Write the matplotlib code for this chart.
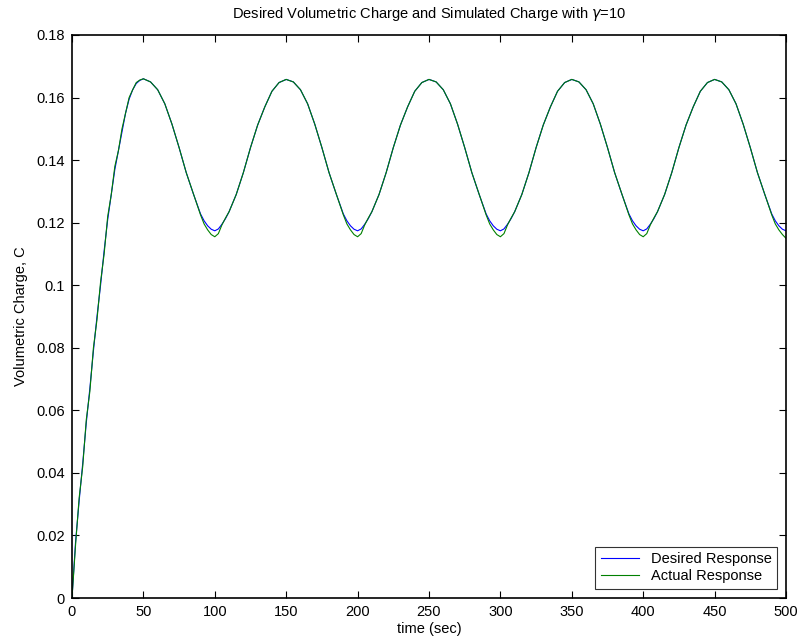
import matplotlib
matplotlib.use("Agg")
import matplotlib.pyplot as plt
import numpy as np

plt.rcParams['font.family'] = ['Liberation Sans', 'DejaVu Sans']
plt.rcParams['mathtext.fontset'] = 'dejavusans'

# time samples (sec)
time_rise = [0, 2.5, 5, 7.5, 10, 12.5, 15, 17.5, 20, 22.5, 25, 27.5, 30,
             32.5, 35, 37.5, 40, 42.5, 45, 47.5, 50]
time_p1 = [55, 60, 65, 70, 75, 80, 85, 90, 92.5, 95, 97.5, 100, 102.5, 105,
           107.5, 110, 115, 120, 125, 130, 135, 140, 145, 150]
time_p2 = [155, 160, 165, 170, 175, 180, 185, 190, 192.5, 195, 197.5, 200,
           202.5, 205, 207.5, 210, 215, 220, 225, 230, 235, 240, 245, 250]
time_p3 = [255, 260, 265, 270, 275, 280, 285, 290, 292.5, 295, 297.5, 300,
           302.5, 305, 307.5, 310, 315, 320, 325, 330, 335, 340, 345, 350]
time_p4 = [355, 360, 365, 370, 375, 380, 385, 390, 392.5, 395, 397.5, 400,
           402.5, 405, 407.5, 410, 415, 420, 425, 430, 435, 440, 445, 450]
time_end = [455, 460, 465, 470, 475, 480, 485, 490, 492.5, 495, 497.5, 500]

# desired volumetric charge
desired_rise = [0.0, 0.018, 0.031, 0.043, 0.056, 0.067, 0.079, 0.090, 0.100,
                0.111, 0.121, 0.129, 0.137, 0.143, 0.149, 0.155, 0.1595,
                0.1625, 0.1645, 0.1655, 0.1660]
desired_p1 = [0.1650, 0.1625, 0.1580, 0.1515, 0.1440, 0.1360, 0.1292, 0.1228,
              0.1206, 0.1190, 0.1179, 0.1174, 0.1180, 0.1195, 0.1213, 0.1235,
              0.1290, 0.1360, 0.1440, 0.1512, 0.1570, 0.1620, 0.1648, 0.1658]
desired_p2 = [0.1650, 0.1625, 0.1580, 0.1515, 0.1440, 0.1360, 0.1292, 0.1228,
              0.1206, 0.1190, 0.1179, 0.1174, 0.1180, 0.1195, 0.1213, 0.1235,
              0.1290, 0.1360, 0.1440, 0.1512, 0.1570, 0.1620, 0.1648, 0.1658]
desired_p3 = [0.1650, 0.1625, 0.1580, 0.1515, 0.1440, 0.1360, 0.1292, 0.1228,
              0.1206, 0.1190, 0.1179, 0.1174, 0.1180, 0.1195, 0.1213, 0.1235,
              0.1290, 0.1360, 0.1440, 0.1512, 0.1570, 0.1620, 0.1648, 0.1658]
desired_p4 = [0.1650, 0.1625, 0.1580, 0.1515, 0.1440, 0.1360, 0.1292, 0.1228,
              0.1206, 0.1190, 0.1179, 0.1174, 0.1180, 0.1195, 0.1213, 0.1235,
              0.1290, 0.1360, 0.1440, 0.1512, 0.1570, 0.1620, 0.1648, 0.1658]
desired_end = [0.1650, 0.1625, 0.1580, 0.1515, 0.1440, 0.1360, 0.1292, 0.1228,
               0.1206, 0.1190, 0.1179, 0.1174]

# simulated (actual) volumetric charge
actual_rise = [0.0, 0.017, 0.032, 0.042, 0.057, 0.066, 0.080, 0.089, 0.101,
               0.110, 0.122, 0.129, 0.138, 0.143, 0.150, 0.155, 0.1600,
               0.1625, 0.1648, 0.1656, 0.1660]
actual_p1 = [0.1650, 0.1625, 0.1580, 0.1515, 0.1440, 0.1360, 0.1292, 0.1225,
             0.1196, 0.1177, 0.1162, 0.1155, 0.1165, 0.1193, 0.1215, 0.1235,
             0.1290, 0.1360, 0.1440, 0.1512, 0.1570, 0.1620, 0.1648, 0.1658]
actual_p2 = [0.1650, 0.1625, 0.1580, 0.1515, 0.1440, 0.1360, 0.1292, 0.1225,
             0.1196, 0.1177, 0.1162, 0.1155, 0.1165, 0.1193, 0.1215, 0.1235,
             0.1290, 0.1360, 0.1440, 0.1512, 0.1570, 0.1620, 0.1648, 0.1658]
actual_p3 = [0.1650, 0.1625, 0.1580, 0.1515, 0.1440, 0.1360, 0.1292, 0.1225,
             0.1196, 0.1177, 0.1162, 0.1155, 0.1165, 0.1193, 0.1215, 0.1235,
             0.1290, 0.1360, 0.1440, 0.1512, 0.1570, 0.1620, 0.1648, 0.1658]
actual_p4 = [0.1650, 0.1625, 0.1580, 0.1515, 0.1440, 0.1360, 0.1292, 0.1225,
             0.1196, 0.1177, 0.1162, 0.1155, 0.1165, 0.1193, 0.1215, 0.1235,
             0.1290, 0.1360, 0.1440, 0.1512, 0.1570, 0.1620, 0.1648, 0.1658]
actual_end = [0.1650, 0.1625, 0.1580, 0.1515, 0.1440, 0.1360, 0.1292, 0.1225,
              0.1196, 0.1177, 0.1162, 0.1150]

x_ticks = [0, 50, 100, 150, 200, 250, 300, 350, 400, 450, 500]
y_ticks = [0, 0.02, 0.04, 0.06, 0.08, 0.1, 0.12, 0.14, 0.16, 0.18]
y_tick_labels = ['0', '0.02', '0.04', '0.06', '0.08', '0.1', '0.12', '0.14',
                 '0.16', '0.18']

time = np.concatenate([time_rise, time_p1, time_p2, time_p3, time_p4, time_end])
desired = np.concatenate([desired_rise, desired_p1, desired_p2, desired_p3,
                          desired_p4, desired_end])
actual = np.concatenate([actual_rise, actual_p1, actual_p2, actual_p3,
                         actual_p4, actual_end])

fig = plt.figure(figsize=(8.02, 6.41), dpi=100)
ax = fig.add_axes([72 / 802, 43 / 641, (786 - 72) / 802, (598 - 35) / 641])

ax.plot(time, desired, color=(0, 0, 1), lw=0.8, label='Desired Response')
ax.plot(time, actual, color=(0, 0.5, 0), lw=0.8, label='Actual Response')

ax.set_xlim(0, 500)
ax.set_ylim(0, 0.18)
ax.set_xticks(x_ticks)
ax.set_yticks(y_ticks)
ax.set_yticklabels(y_tick_labels)
ax.tick_params(direction='in', length=5, width=0.8, top=True, right=True,
               labelsize=10.5, pad=5, colors='black')
for sp in ax.spines.values():
    sp.set_linewidth(1.2)
    sp.set_color('black')

ax.set_title(r'Desired Volumetric Charge and Simulated Charge with $\gamma$=10',
             fontsize=10.5, pad=12)
ax.set_xlabel('time (sec)', fontsize=10.5, labelpad=2)
ax.set_ylabel('Volumetric Charge, C', fontsize=10.5, labelpad=6)

leg = ax.legend(loc='lower right', fontsize=10.5, frameon=True, fancybox=False,
                edgecolor='black', borderaxespad=0.6, handlelength=2.6,
                borderpad=0.4, labelspacing=0.2, handletextpad=0.8)
leg.get_frame().set_linewidth(0.8)

fig.savefig('out.png', dpi=100)
